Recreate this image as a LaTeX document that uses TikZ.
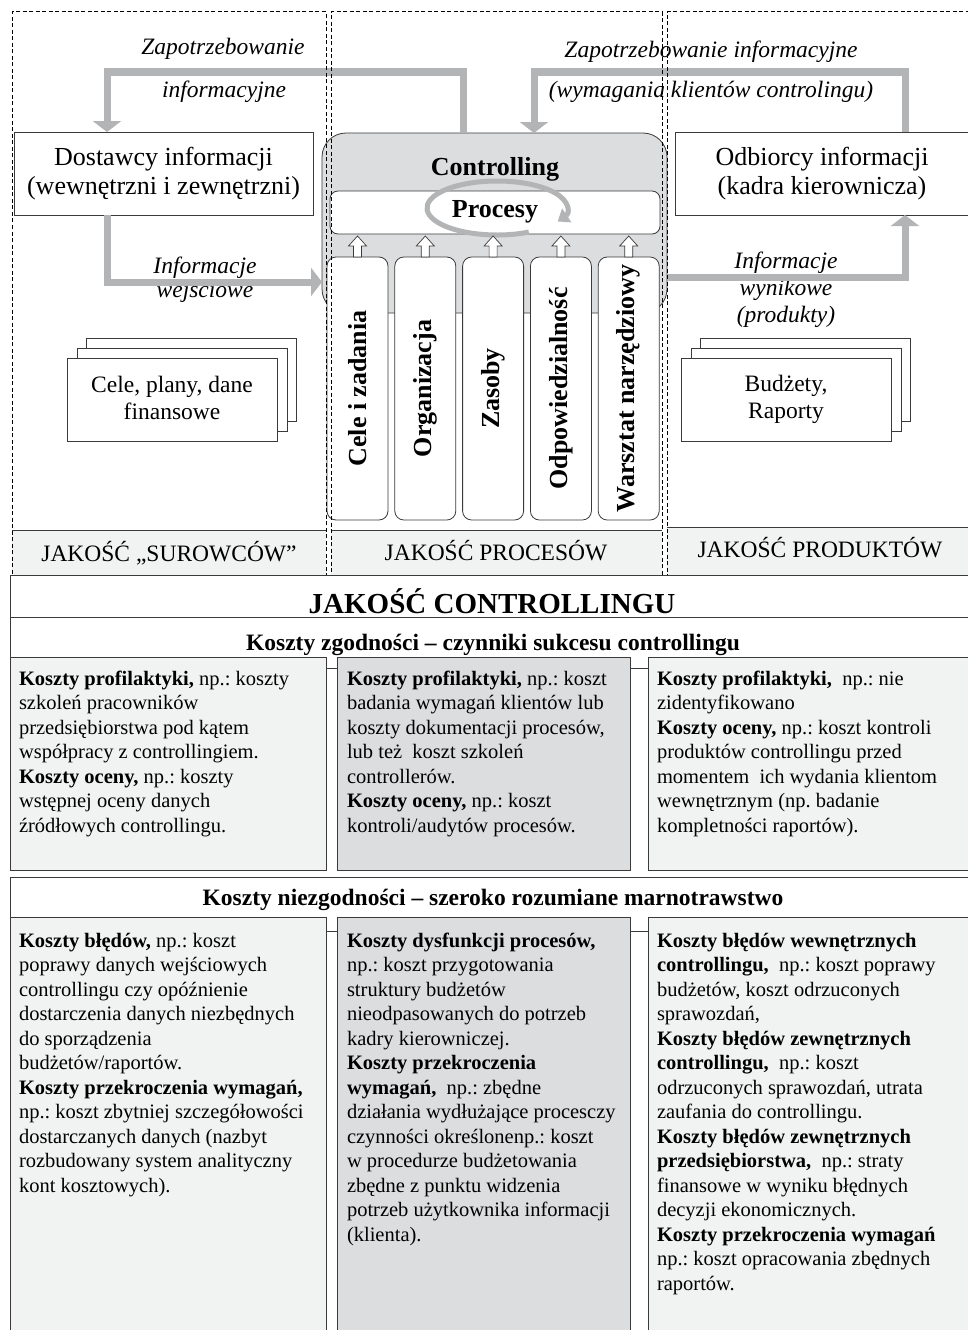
\documentclass[tikz,border=0pt]{standalone}
\usepackage{fontspec}
\setmainfont{Liberation Serif}
\usetikzlibrary{arrows.meta,positioning,calc}

\definecolor{qlight}{HTML}{F1F2F2}
\definecolor{qdark}{HTML}{DCDDDE}
\definecolor{qflow}{HTML}{B3B4B6}
\definecolor{qline}{HTML}{3A3A3A}

\newcommand{\fsz}[2]{\fontsize{#1}{#2}\selectfont}
\frenchspacing

\begin{document}
\begin{tikzpicture}[x=1pt, y=-1pt,
  every node/.style={inner sep=0pt, outer sep=0pt},
  infobox/.style={draw=qline, line width=0.8pt, fill=white, align=center,
    minimum height=83pt, anchor=north west, font=\fsz{26}{29}},
  stackbox/.style={draw=qline, line width=0.8pt, fill=white,
    minimum width=210pt, minimum height=83pt, anchor=north west},
  stacktext/.style={align=center, font=\fsz{23.5}{27}},
  flow/.style={draw=qflow, line width=7pt, -{Triangle[width=28pt,length=11pt]}},
  flowlabel/.style={anchor=base, font=\itshape\fsz{23.5}{27}},
  pillar/.style={draw=qline, line width=0.8pt, fill=white, rounded corners=9pt,
    minimum width=61pt, minimum height=263pt},
  pillartext/.style={rotate=90, font=\bfseries\fsz{26}{30}},
  uparrow/.style={draw=qline, line width=0.7pt, fill=white},
  qualband/.style={fill=qlight, minimum height=45pt, anchor=north west},
  bandtext/.style={anchor=base, font=\fsz{23.5}{27}},
  colframe/.style={draw=black, line width=1pt, dash pattern=on 4pt off 2.5pt,
    anchor=north west, minimum height=563pt},
  rowframe/.style={draw=qline, line width=0.8pt, fill=white, anchor=north west,
    minimum width=959pt},
  kbox/.style={draw=qline, line width=0.8pt, anchor=north west},
  ktext/.style={anchor=north west, align=left, font=\fsz{20.5}{24.5}},
  ]

  \useasboundingbox (0,0) rectangle (968,1330);
  \clip (0,0) rectangle (968,1330);
  \fill[white] (0,0) rectangle (968,1330);

  % ---- Quality bands ----
  \node[qualband, minimum width=314pt] (qL) at (12,530) {};
  \node[qualband, minimum width=331pt] (qM) at (331,530) {};
  \node[qualband, minimum width=302pt, minimum height=48pt] (qR) at (667,527) {};
  \draw[qline, line width=0.8pt] (qL.north west) -- (qL.north east);
  \draw[qline, line width=0.8pt] (qM.north west) -- (qM.north east);
  \draw[qline, line width=0.8pt] (qR.north west) -- (qR.north east);
  \node[bandtext] (qLtxt) at (169,561) {JAKOŚĆ „SUROWCÓW”};
  \node[bandtext] (qMtxt) at (496,560) {JAKOŚĆ PROCESÓW};
  \node[bandtext] (qRtxt) at (820,557) {JAKOŚĆ PRODUKTÓW};

  % ---- Suppliers and receivers ----
  \node[infobox, minimum width=299pt] (dost) at (14,132)
    {Dostawcy informacji\\(wewnętrzni i zewnętrzni)};
  \node[infobox, minimum width=294pt] (odb) at (675,132)
    {Odbiorcy informacji\\(kadra kierownicza)};

  % ---- Stacked documents ----
  \node[stackbox] (stL3) at (86,338) {};
  \node[stackbox] (stL2) at (77,348) {};
  \node[stackbox] (stL1) at (67,358) {};
  \node[stacktext] (stLtxt) at ([yshift=2pt]stL1.center) {Cele, plany, dane\\finansowe};
  \node[stackbox] (stR3) at (700,338) {};
  \node[stackbox] (stR2) at (691,348) {};
  \node[stackbox] (stR1) at (681,358) {};
  \node[stacktext] (stRtxt) at (stR1.center) {Budżety,\\Raporty};

  % ---- Controlling block ----
  \node[draw=qline, line width=0.8pt, fill=qdark, rounded corners=24pt,
    minimum width=345pt, minimum height=180pt, anchor=north west] (ctrl) at (322,133) {};
  \node[anchor=base, font=\bfseries\fsz{26}{30}] (ctrltxt) at (495,175) {Controlling};
  \node[draw=qline, line width=0.8pt, fill=white, rounded corners=8pt,
    minimum width=330pt, minimum height=43pt, anchor=north west] (proc) at (330,191) {};
  \draw[qflow, line width=5pt, -{Triangle[width=16pt,length=11pt]}]
    ([shift={(63:70 and 27)}]497,208) arc[start angle=63, end angle=390, x radius=70, y radius=27];
  \node[anchor=base, font=\bfseries\fsz{26}{30}] (proctxt) at (495,217) {Procesy};

  % pillars
  \node[pillar, anchor=north] (p1) at (357.5,257) {};
  \node[pillar, right=6.8pt of p1] (p2) {};
  \node[pillar, right=6.8pt of p2] (p3) {};
  \node[pillar, right=6.8pt of p3] (p4) {};
  \node[pillar, right=6.8pt of p4] (p5) {};
  \foreach \i/\t in {1/Cele i zadania, 2/Organizacja, 3/Zasoby,
                     4/Odpowiedzialność, 5/Warsztat narzędziowy}
    \node[pillartext] (pt\i) at (p\i.center) {\t};
  \foreach \i in {1,...,5}
    \draw[uparrow] ([xshift=-4pt]p\i.north) -- ++(0,-11) -- ++(-5,0) -- ++(9,-10)
      -- ++(9,10) -- ++(-5,0) -- ++(0,11) -- cycle;

  % ---- Flow labels ----
  \node[flowlabel] (zapL1) at (223,55) {Zapotrzebowanie};
  \node[flowlabel] (zapL2) at (224,97) {informacyjne};
  \node[flowlabel] (zapR1) at (711,58) {Zapotrzebowanie informacyjne};
  \node[flowlabel] (zapR2) at (711,97) {(wymagania klientów controlingu)};
  \node[flowlabel] (weL1) at (205,273) {Informacje};
  \node[flowlabel] (weL2) at (205,297) {wejściowe};
  \node[flowlabel] (wyR1) at (786,268) {Informacje};
  \node[flowlabel] (wyR2) at (786,295) {wynikowe};
  \node[flowlabel] (wyR3) at (786,322) {(produkty)};

  % ---- Information flows ----
  \coordinate (zl) at (107,72);
  \coordinate (zr) at (463,72);
  \coordinate (wl) at (534,72);
  \coordinate (wr) at (905,72);
  \coordinate (il) at (107,282);
  \coordinate (ir) at (905,277);
  \draw[flow] (ctrl.north -| zr) -- (zr) -- (zl) -- (dost.north -| zl);
  \draw[flow] (odb.north -| wr) -- (wr) -- (wl) -- (ctrl.north -| wl);
  \draw[flow] (dost.south -| il) -- (il) -- (ctrl.west |- il);
  \draw[flow] (ctrl.east |- ir) -- (ir) -- (odb.south -| ir);

  % ---- Dashed columns ----
  \node[colframe, minimum width=314pt] (colL) at (12,12) {};
  \node[colframe, minimum width=331pt] (colM) at (331,12) {};
  \node[colframe, minimum width=302pt] (colR) at (667,12) {};

  % ---- Quality of controlling ----
  \node[rowframe, minimum height=42pt] (jc) at (10,575) {};
  \node[anchor=base, font=\bfseries\fsz{29}{32}] (jctxt) at (492,613) {JAKOŚĆ CONTROLLINGU};

  \node[rowframe, minimum height=51pt] (h1) at (10,617) {};
  \node[anchor=base, font=\bfseries\fsz{23.5}{27}] (h1txt) at (493,650)
    {Koszty zgodności – czynniki sukcesu controllingu};
  \node[kbox, fill=qlight, minimum width=316pt, minimum height=213pt] (k1a) at (10,657) {};
  \node[kbox, fill=qdark, minimum width=293pt, minimum height=213pt, right=11pt of k1a] (k1b) {};
  \node[kbox, fill=qlight, minimum width=321pt, minimum height=213pt, right=18pt of k1b] (k1c) {};
  \node[ktext] (k1atxt) at ([xshift=9pt, yshift=-14pt]k1a.north west)
    {\textbf{Koszty profilaktyki,} np.: koszty\\
     szkoleń pracowników\\
     przedsiębiorstwa pod kątem\\
     współpracy z controllingiem.\\
     \textbf{Koszty oceny,} np.: koszty\\
     wstępnej oceny danych\\
     źródłowych controllingu.};
  \node[ktext] (k1btxt) at ([xshift=10pt, yshift=-14pt]k1b.north west)
    {\textbf{Koszty profilaktyki,} np.: koszt\\
     badania wymagań klientów lub\\
     koszty dokumentacji procesów,\\
     lub też~ koszt szkoleń\\
     controllerów.\\
     \textbf{Koszty oceny,} np.: koszt\\
     kontroli/audytów procesów.};
  \node[ktext] (k1ctxt) at ([xshift=9pt, yshift=-14pt]k1c.north west)
    {\textbf{Koszty profilaktyki,}~ np.: nie\\
     zidentyfikowano\\
     \textbf{Koszty oceny,} np.: koszt kontroli\\
     produktów controllingu przed\\
     momentem~ ich wydania klientom\\
     wewnętrznym (np. badanie\\
     kompletności raportów).};

  \node[rowframe, minimum height=54pt] (h2) at (10,877) {};
  \node[anchor=base, font=\bfseries\fsz{23.5}{27}] (h2txt) at (493,905)
    {Koszty niezgodności – szeroko rozumiane marnotrawstwo};
  \node[kbox, fill=qlight, minimum width=316pt, minimum height=423pt] (k2a) at (10,917) {};
  \node[kbox, fill=qdark, minimum width=293pt, minimum height=423pt, right=11pt of k2a] (k2b) {};
  \node[kbox, fill=qlight, minimum width=321pt, minimum height=423pt, right=18pt of k2b] (k2c) {};
  \node[ktext] (k2atxt) at ([xshift=9pt, yshift=-16pt]k2a.north west)
    {\textbf{Koszty błędów,} np.: koszt\\
     poprawy danych wejściowych\\
     controllingu czy opóźnienie\\
     dostarczenia danych niezbędnych\\
     do sporządzenia\\
     budżetów/raportów.\\
     \textbf{Koszty przekroczenia wymagań,}\\
     np.: koszt zbytniej szczegółowości\\
     dostarczanych danych (nazbyt\\
     rozbudowany system analityczny\\
     kont kosztowych).};
  \node[ktext] (k2btxt) at ([xshift=10pt, yshift=-16pt]k2b.north west)
    {\textbf{Koszty dysfunkcji procesów,}\\
     np.: koszt przygotowania\\
     struktury budżetów\\
     nieodpasowanych do potrzeb\\
     kadry kierowniczej.\\
     \textbf{Koszty przekroczenia}\\
     \textbf{wymagań,}~ np.: zbędne\\
     działania wydłużające procesczy\\
     czynności określonenp.: koszt\\
     w procedurze budżetowania\\
     zbędne z punktu widzenia\\
     potrzeb użytkownika informacji\\
     (klienta).};
  \node[ktext] (k2ctxt) at ([xshift=9pt, yshift=-16pt]k2c.north west)
    {\textbf{Koszty błędów wewnętrznych}\\
     \textbf{controllingu,}~ np.: koszt poprawy\\
     budżetów, koszt odrzuconych\\
     sprawozdań,\\
     \textbf{Koszty błędów zewnętrznych}\\
     \textbf{controllingu,}~ np.: koszt\\
     odrzuconych sprawozdań, utrata\\
     zaufania do controllingu.\\
     \textbf{Koszty błędów zewnętrznych}\\
     \textbf{przedsiębiorstwa,}~ np.: straty\\
     finansowe w wyniku błędnych\\
     decyzji ekonomicznych.\\
     \textbf{Koszty przekroczenia wymagań}\\
     np.: koszt opracowania zbędnych\\
     raportów.};

\end{tikzpicture}
\end{document}
